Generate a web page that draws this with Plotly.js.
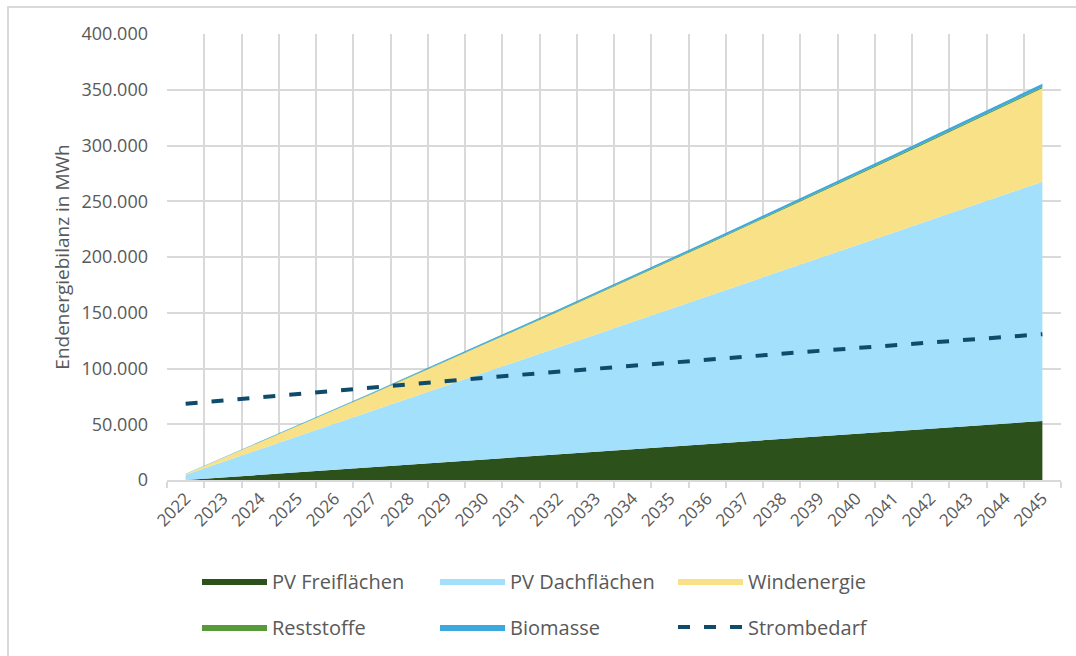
<!DOCTYPE html>
<html>
<head>
<meta charset="utf-8">
<script src="https://cdn.plot.ly/plotly-3.0.1.min.js"></script>
<style>
  html, body { margin: 0; padding: 0; background: #ffffff; }
  #wrap { position: relative; width: 1076px; height: 656px; overflow: hidden; }
  #chart { position: absolute; left: 0; top: 0; width: 1076px; height: 656px; }
  #frame { position: absolute; left: 7px; top: 6px; width: 1080px; height: 670px; border: 2px solid #d9d9d9; box-sizing: border-box; pointer-events: none; }
</style>
</head>
<body>
<div id="wrap">
  <div id="chart"></div>
  <div id="frame"></div>
</div>
<script>
const years = ['2022','2023','2024','2025','2026','2027','2028','2029','2030','2031','2032','2033','2034','2035','2036','2037','2038','2039','2040','2041','2042','2043','2044','2045'];

const pvFreiflaechen = [0, 2300, 4600, 6900, 9200, 11500, 13800, 16100, 18400, 20700, 23000, 25300, 27600, 29900, 32200, 34500, 36800, 39100, 41400, 43700, 46000, 48300, 50600, 52900];
const pvDachflaechen = [4800, 13900, 23000, 32200, 41300, 50400, 59500, 68600, 77800, 86900, 96000, 105100, 114200, 123400, 132500, 141600, 150700, 159800, 169000, 178100, 187200, 196300, 205400, 214600];
const windenergie = [500, 3300, 6200, 9200, 12200, 15300, 18500, 21800, 25100, 28500, 32000, 35500, 39200, 42900, 46600, 50500, 54400, 58400, 62400, 66600, 70800, 75100, 79400, 83800];
const reststoffe = [100, 150, 200, 250, 300, 350, 400, 450, 500, 550, 600, 650, 700, 750, 800, 850, 900, 950, 1000, 1050, 1100, 1150, 1200, 1250];
const biomasse = [200, 310, 430, 540, 650, 770, 880, 990, 1100, 1220, 1330, 1440, 1560, 1670, 1780, 1900, 2010, 2120, 2230, 2350, 2460, 2570, 2690, 2800];
const strombedarf = [68300, 71300, 74300, 77200, 80100, 83100, 85900, 88800, 91600, 94400, 97200, 99900, 102600, 105300, 108000, 110600, 113200, 115800, 118400, 120900, 123400, 125900, 128400, 130800];

const FONT = '"Open Sans", "DejaVu Sans", sans-serif';
const GREY_TXT = '#595959';
const GRID = '#d9d9d9';

function area(name, y, color, legend) {
  return {
    type: 'scatter', mode: 'lines', name: name, x: years, y: y,
    stackgroup: 'one', fillcolor: color,
    line: { width: 0, color: color },
    legend: legend, hoverinfo: 'x+y+name'
  };
}

const traces = [
  area('PV Freiflächen', pvFreiflaechen, '#2d511b', 'legend'),
  area('PV Dachflächen', pvDachflaechen, '#a3e0fc', 'legend'),
  area('Windenergie', windenergie, '#f9e187', 'legend'),
  area('Reststoffe', reststoffe, '#569a3a', 'legend2'),
  area('Biomasse', biomasse, '#3da8de', 'legend2'),
  {
    type: 'scatter', mode: 'lines', name: 'Strombedarf', x: years, y: strombedarf,
    line: { color: '#0f4c6b', width: 4, dash: '12px,14px' },
    legend: 'legend2'
  }
];

const legendCommon = {
  orientation: 'h',
  traceorder: 'normal',
  xref: 'container', yref: 'container',
  xanchor: 'left', yanchor: 'middle',
  bgcolor: 'rgba(0,0,0,0)',
  font: { family: FONT, size: 20, color: GREY_TXT },
  entrywidth: 158, entrywidthmode: 'pixels',
  itemwidth: 65,
  itemclick: false, itemdoubleclick: false
};

const layout = {
  width: 1076, height: 656,
  paper_bgcolor: 'rgba(0,0,0,0)', plot_bgcolor: '#ffffff',
  separators: ',.',
  font: { family: FONT, color: GREY_TXT },
  margin: { l: 167, r: 15, t: 34, b: 176 },
  showlegend: true,
  xaxis: {
    type: 'category', range: [-0.5, 23.5],
    tickson: 'boundaries', showgrid: true, gridcolor: GRID, gridwidth: 2,
    ticks: 'outside', ticklen: 6, tickcolor: GRID, tickwidth: 2,
    showline: true, linecolor: GRID, linewidth: 2,
    tickangle: -45, tickfont: { family: FONT, size: 17, color: GREY_TXT },
    fixedrange: true
  },
  yaxis: {
    range: [0, 400000], dtick: 50000, tick0: 0, tickformat: ',d',
    showgrid: true, gridcolor: GRID, gridwidth: 2, zeroline: false,
    ticks: '', ticklabelstandoff: 18,
    tickfont: { family: FONT, size: 18, color: GREY_TXT },
    title: { text: 'Endenergiebilanz in MWh', font: { family: FONT, size: 19, color: GREY_TXT }, standoff: 6 },
    fixedrange: true
  },
  legend: Object.assign({}, legendCommon, { x: 197 / 1076, y: 1 - 581 / 656 }),
  legend2: Object.assign({}, legendCommon, { x: 197 / 1076, y: 1 - 627 / 656 })
};

Plotly.newPlot('chart', traces, layout, { displayModeBar: false, staticPlot: true });
</script>
</body>
</html>
